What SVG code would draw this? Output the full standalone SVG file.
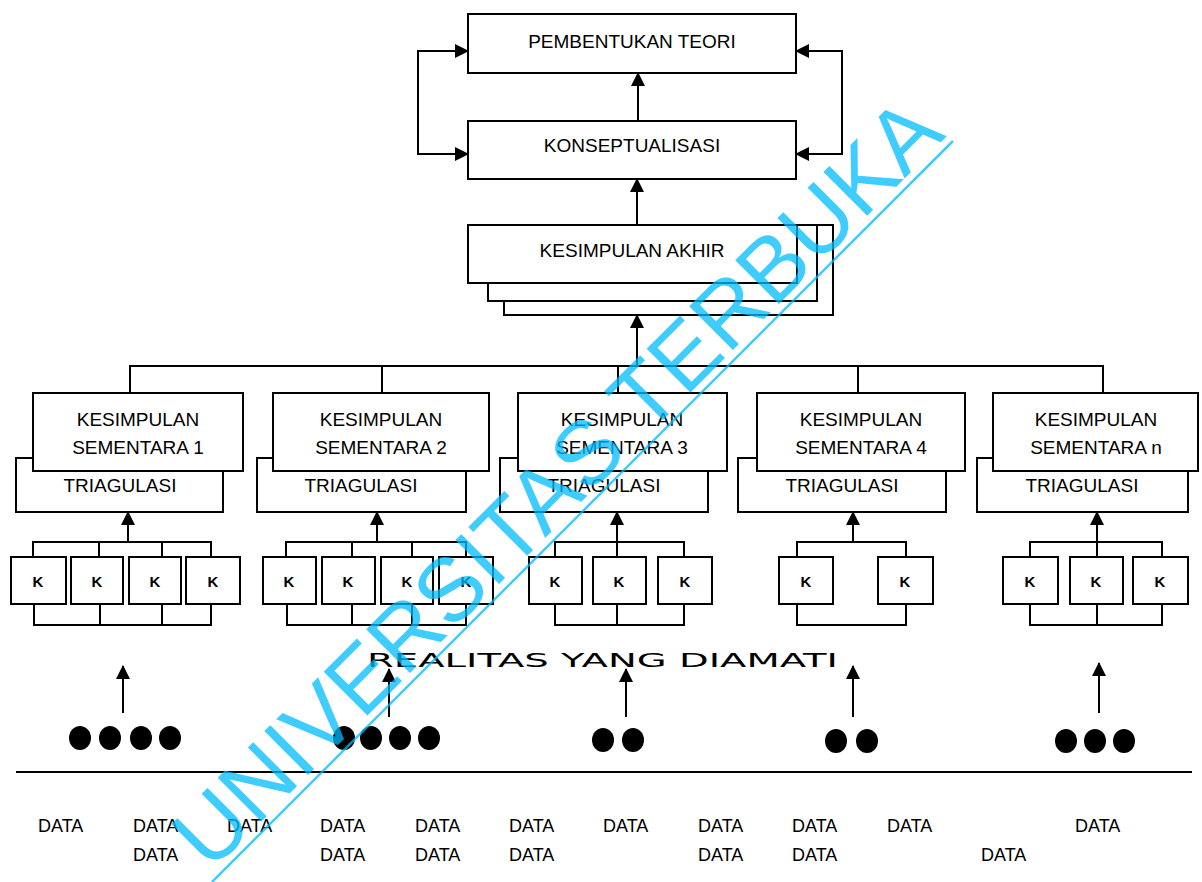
<svg xmlns="http://www.w3.org/2000/svg" width="1202" height="882" viewBox="0 0 1202 882">
<style>
.box{fill:#fff;stroke:#000;stroke-width:2}
.ln{fill:none;stroke:#000;stroke-width:2}
.ar{fill:none;stroke:#000;stroke-width:2;marker-end:url(#ah)}
.t{font-family:"Liberation Sans",Arial,sans-serif;font-size:19px;fill:#000;text-anchor:middle}
.k{font-family:"Liberation Sans",Arial,sans-serif;font-size:15px;font-weight:bold;fill:#000;text-anchor:middle}
.d{font-family:"Liberation Sans",Arial,sans-serif;font-size:18px;fill:#000}
.dot{fill:#000}
</style>
<defs>
<marker id="ah" viewBox="0 0 14 14" refX="13" refY="7" markerWidth="14" markerHeight="14" orient="auto" markerUnits="userSpaceOnUse">
<path d="M0,0 L14,7 L0,14 z" fill="#000"/>
</marker>
</defs>
<rect width="1202" height="882" fill="#fff"/>

<g id="connectors">
<path class="ar" d="M638,121 V73"/>
<path class="ar" d="M637,225 V179"/>
<path class="ln" d="M468,51 H418 V154 H468"/>
<path class="ar" d="M420,51 H468"/>
<path class="ar" d="M420,154 H468"/>
<path class="ln" d="M796,51 H842 V154 H796"/>
<path class="ar" d="M840,51 H796"/>
<path class="ar" d="M840,154 H796"/>
<path class="ar" d="M637,366 V315"/>
<path class="ln" d="M130,393 V366 H1103 V393 M382,366 V393 M618,366 V393 M858,366 V393"/>
<path class="ln" d="M33,557 V542 H211 V557 M99,542 V557 M162,542 V557"/>
<path class="ar" d="M128,542 V512"/>
<path class="ln" d="M34,604 V625 H211 V604 M100,625 V604 M162,625 V604"/>
<path class="ln" d="M286,557 V542 H466 V557 M352,542 V557 M412,542 V557"/>
<path class="ar" d="M377,542 V512"/>
<path class="ln" d="M287,604 V625 H466 V604 M352,625 V604 M412,625 V604"/>
<path class="ln" d="M555,557 V542 H684 V557"/>
<path class="ar" d="M617,557 V512"/>
<path class="ln" d="M555,604 V625 H684 V604 M617,625 V604"/>
<path class="ln" d="M797,557 V542 H906 V557"/>
<path class="ar" d="M853,542 V512"/>
<path class="ln" d="M797,604 V625 H906 V604"/>
<path class="ln" d="M1030,557 V542 H1162 V557"/>
<path class="ar" d="M1097,557 V512"/>
<path class="ln" d="M1030,604 V625 H1162 V604 M1097,625 V604"/>
<path class="ar" d="M123,713 V666"/>
<path class="ar" d="M389,717 V669"/>
<path class="ar" d="M626,717 V669"/>
<path class="ar" d="M853,717 V666"/>
<path class="ar" d="M1099,713 V663"/>
<path class="ln" d="M16,772 H1192"/>
</g>

<g id="pembentukan-teori">
<rect class="box" x="468" y="14" width="328" height="59"/>
<text class="t" x="632" y="48">PEMBENTUKAN TEORI</text>
</g>
<g id="konseptualisasi">
<rect class="box" x="468" y="121" width="328" height="58"/>
<text class="t" x="632" y="152">KONSEPTUALISASI</text>
</g>
<g id="kesimpulan-akhir">
<rect class="box" x="504" y="225" width="329" height="90"/>
<rect class="box" x="488" y="225" width="329" height="76"/>
<rect class="box" x="468" y="225" width="329" height="58"/>
<text class="t" x="632" y="257">KESIMPULAN AKHIR</text>
</g>

<g id="ks1">
<rect class="box" x="16" y="458" width="207" height="54"/>
<rect class="box" x="33" y="393" width="210" height="78"/>
<text class="t" x="138" y="426">KESIMPULAN</text>
<text class="t" x="138" y="454">SEMENTARA 1</text>
<text class="t" x="120" y="492">TRIAGULASI</text>
</g>
<g id="ks2">
<rect class="box" x="257" y="458" width="209" height="54"/>
<rect class="box" x="273" y="393" width="216" height="78"/>
<text class="t" x="381" y="426">KESIMPULAN</text>
<text class="t" x="381" y="454">SEMENTARA 2</text>
<text class="t" x="361" y="492">TRIAGULASI</text>
</g>
<g id="ks3">
<rect class="box" x="500" y="458" width="208" height="54"/>
<rect class="box" x="518" y="393" width="209" height="78"/>
<text class="t" x="622" y="426">KESIMPULAN</text>
<text class="t" x="622" y="454">SEMENTARA 3</text>
<text class="t" x="604" y="492">TRIAGULASI</text>
</g>
<g id="ks4">
<rect class="box" x="738" y="458" width="208" height="54"/>
<rect class="box" x="757" y="393" width="208" height="78"/>
<text class="t" x="861" y="426">KESIMPULAN</text>
<text class="t" x="861" y="454">SEMENTARA 4</text>
<text class="t" x="842" y="492">TRIAGULASI</text>
</g>
<g id="ksn">
<rect class="box" x="977" y="458" width="211" height="54"/>
<rect class="box" x="993" y="393" width="205" height="78"/>
<text class="t" x="1096" y="426">KESIMPULAN</text>
<text class="t" x="1096" y="454">SEMENTARA n</text>
<text class="t" x="1082" y="492">TRIAGULASI</text>
</g>

<g id="k-group-1">
<rect class="box" x="11" y="557" width="55" height="47"/><text class="k" x="38" y="587">K</text>
<rect class="box" x="71" y="557" width="52" height="47"/><text class="k" x="97" y="587">K</text>
<rect class="box" x="129" y="557" width="52" height="47"/><text class="k" x="155" y="587">K</text>
<rect class="box" x="186" y="557" width="54" height="47"/><text class="k" x="213" y="587">K</text>
</g>
<g id="k-group-2">
<rect class="box" x="263" y="557" width="53" height="47"/><text class="k" x="289" y="587">K</text>
<rect class="box" x="322" y="557" width="53" height="47"/><text class="k" x="348" y="587">K</text>
<rect class="box" x="381" y="557" width="52" height="47"/><text class="k" x="407" y="587">K</text>
<rect class="box" x="439" y="557" width="54" height="47"/><text class="k" x="466" y="587">K</text>
</g>
<g id="k-group-3">
<rect class="box" x="529" y="557" width="53" height="47"/><text class="k" x="555" y="587">K</text>
<rect class="box" x="593" y="557" width="53" height="47"/><text class="k" x="619" y="587">K</text>
<rect class="box" x="658" y="557" width="54" height="47"/><text class="k" x="685" y="587">K</text>
</g>
<g id="k-group-4">
<rect class="box" x="779" y="557" width="54" height="47"/><text class="k" x="806" y="587">K</text>
<rect class="box" x="878" y="557" width="55" height="47"/><text class="k" x="905" y="587">K</text>
</g>
<g id="k-group-5">
<rect class="box" x="1003" y="557" width="55" height="47"/><text class="k" x="1030" y="587">K</text>
<rect class="box" x="1070" y="557" width="53" height="47"/><text class="k" x="1096" y="587">K</text>
<rect class="box" x="1133" y="557" width="55" height="47"/><text class="k" x="1160" y="587">K</text>
</g>

<g id="realitas">
<text x="367" y="667" textLength="471" lengthAdjust="spacingAndGlyphs" style="font-family:'DejaVu Sans',sans-serif;font-size:19px;fill:#000">REALITAS YANG DIAMATI</text>
</g>

<g id="dots">
<ellipse class="dot" cx="80" cy="738" rx="11" ry="12"/>
<ellipse class="dot" cx="110" cy="738" rx="11" ry="12"/>
<ellipse class="dot" cx="141" cy="738" rx="11" ry="12"/>
<ellipse class="dot" cx="170" cy="738" rx="11" ry="12"/>
<ellipse class="dot" cx="344" cy="738" rx="11" ry="12"/>
<ellipse class="dot" cx="371" cy="738" rx="11" ry="12"/>
<ellipse class="dot" cx="400" cy="738" rx="11" ry="12"/>
<ellipse class="dot" cx="429" cy="738" rx="11" ry="12"/>
<ellipse class="dot" cx="603" cy="740" rx="11" ry="12"/>
<ellipse class="dot" cx="633" cy="740" rx="11" ry="12"/>
<ellipse class="dot" cx="836" cy="741" rx="11" ry="12"/>
<ellipse class="dot" cx="867" cy="741" rx="11" ry="12"/>
<ellipse class="dot" cx="1066" cy="741" rx="11" ry="12"/>
<ellipse class="dot" cx="1095" cy="741" rx="11" ry="12"/>
<ellipse class="dot" cx="1124" cy="741" rx="11" ry="12"/>
</g>

<g id="data">
<text class="d" x="38" y="832">DATA</text>
<text class="d" x="133" y="832">DATA</text>
<text class="d" x="227" y="832">DATA</text>
<text class="d" x="320" y="832">DATA</text>
<text class="d" x="415" y="832">DATA</text>
<text class="d" x="509" y="832">DATA</text>
<text class="d" x="603" y="832">DATA</text>
<text class="d" x="698" y="832">DATA</text>
<text class="d" x="792" y="832">DATA</text>
<text class="d" x="887" y="832">DATA</text>
<text class="d" x="1075" y="832">DATA</text>
<text class="d" x="133" y="861">DATA</text>
<text class="d" x="320" y="861">DATA</text>
<text class="d" x="415" y="861">DATA</text>
<text class="d" x="509" y="861">DATA</text>
<text class="d" x="698" y="861">DATA</text>
<text class="d" x="792" y="861">DATA</text>
<text class="d" x="981" y="861">DATA</text>
</g>

<g id="watermark" opacity="0.75">
<text transform="translate(947,136) rotate(-45)" text-anchor="end" style="font-family:'Liberation Sans',Arial,sans-serif;font-size:90px;fill:#00bbff">UNIVERSITAS TERBUKA</text>
<path d="M212,882 L953,141" stroke="#00bbff" stroke-width="2.5" fill="none"/>
</g>
</svg>
